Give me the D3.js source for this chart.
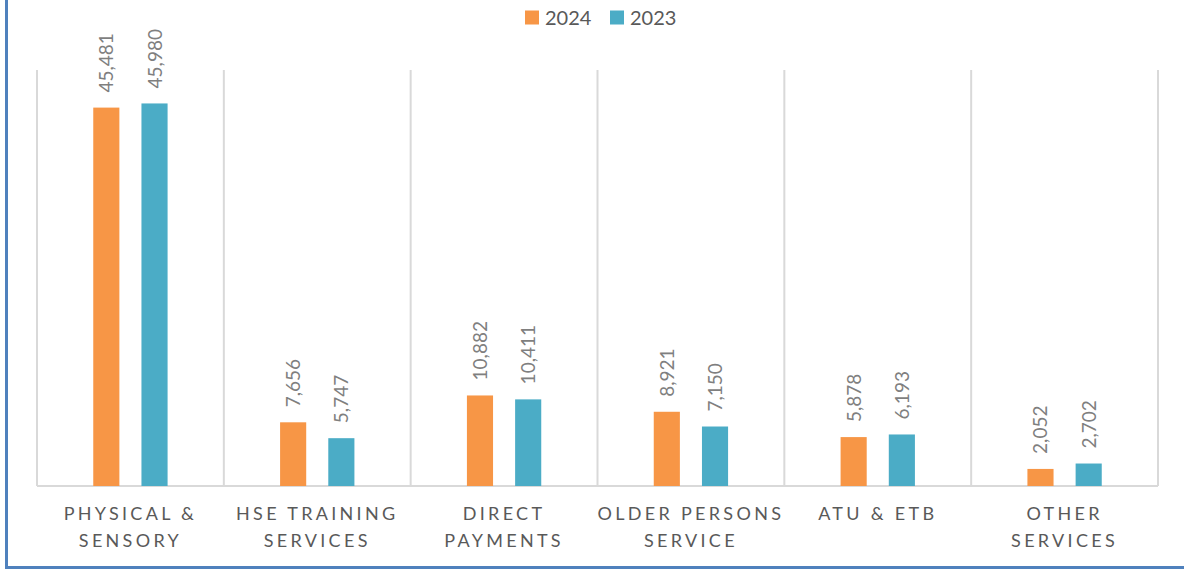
<!DOCTYPE html>
<meta charset="utf-8" />
<title>Services chart</title>
<style>
  body { margin: 0; background: #fff; font-family: Lato, "Open Sans", sans-serif; }
  svg { display: block; }
  .grid line { stroke: #d9d9d9; stroke-width: 2px; }
  .val { fill: #7f7f7f; font-size: 19px; }
  .cat { fill: #595959; font-size: 18px; letter-spacing: 3.3px; }
  .leg { fill: #595959; font-size: 20px; }
</style>
<body>
<svg width="1184" height="570"></svg>
<script src="https://d3js.org/d3.v7.min.js"></script>
<script>
  const categories = [
    ["PHYSICAL &", "SENSORY"],
    ["HSE TRAINING", "SERVICES"],
    ["DIRECT", "PAYMENTS"],
    ["OLDER PERSONS", "SERVICE"],
    ["ATU & ETB"],
    ["OTHER", "SERVICES"]
  ];
  const seriesNames = ["2024", "2023"];
  const values2024 = [45481, 7656, 10882, 8921, 5878, 2052];
  const values2023 = [45980, 5747, 10411, 7150, 6193, 2702];
  const colors = ["#f79646", "#4bacc6"];

  const svg = d3.select("svg");
  const margin = { left: 37, right: 26, top: 70, bottom: 84 };
  const W = 1184, H = 570;

  // blue frame (left + bottom only visible)
  svg.append("line").attr("x1", 6.5).attr("x2", 6.5).attr("y1", 0).attr("y2", 569)
    .attr("stroke", "#4f81bd").attr("stroke-width", 3);
  svg.append("line").attr("x1", 5).attr("x2", W).attr("y1", 567.5).attr("y2", 567.5)
    .attr("stroke", "#4f81bd").attr("stroke-width", 3);

  const x = d3.scaleBand().domain(d3.range(categories.length))
    .range([margin.left, W - margin.right]);
  const y = d3.scaleLinear().domain([0, 50000]).range([H - margin.bottom, margin.top]);
  const x1 = d3.scaleBand().domain(seriesNames).range([0, x.bandwidth()])
    .paddingInner(0.458).paddingOuter(1.167);

  // category separators
  const grid = svg.append("g").attr("class", "grid");
  grid.selectAll("line.v").data(d3.range(categories.length + 1)).join("line")
    .attr("class", "v")
    .attr("x1", i => i < categories.length ? x(i) : x(i - 1) + x.bandwidth())
    .attr("x2", i => i < categories.length ? x(i) : x(i - 1) + x.bandwidth())
    .attr("y1", y(50000)).attr("y2", y(0));
  grid.append("line").attr("x1", x(0)).attr("x2", W - margin.right)
    .attr("y1", y(0)).attr("y2", y(0));

  const series = [values2024, values2023];
  series.forEach((vals, s) => {
    const g = svg.append("g");
    g.selectAll("rect").data(vals).join("rect")
      .attr("x", (d, i) => x(i) + x1(seriesNames[s]))
      .attr("width", x1.bandwidth())
      .attr("y", d => y(d))
      .attr("height", d => y(0) - y(d))
      .attr("fill", colors[s]);
    g.selectAll("text").data(vals).join("text")
      .attr("class", "val")
      .attr("transform", (d, i) => `translate(${x(i) + x1(seriesNames[s]) + x1.bandwidth() / 2 + 7},${y(d) - 15}) rotate(-90)`)
      .text(d => d3.format(",")(d));
  });

  // category labels
  const cat = svg.append("g");
  categories.forEach((lines, i) => {
    const cx = x(i) + x.bandwidth() / 2;
    const t = cat.append("text").attr("class", "cat").attr("text-anchor", "middle");
    lines.forEach((l, k) => {
      t.append("tspan").attr("x", cx).attr("y", 520 + k * 26.5).text(l);
    });
  });

  // legend
  const legX = [525, 610];
  seriesNames.forEach((n, s) => {
    svg.append("rect").attr("x", legX[s]).attr("y", 10.5).attr("width", 14).attr("height", 14)
      .attr("fill", colors[s]);
    svg.append("text").attr("class", "leg").attr("x", legX[s] + 20).attr("y", 25).text(n);
  });
</script>
</body>
